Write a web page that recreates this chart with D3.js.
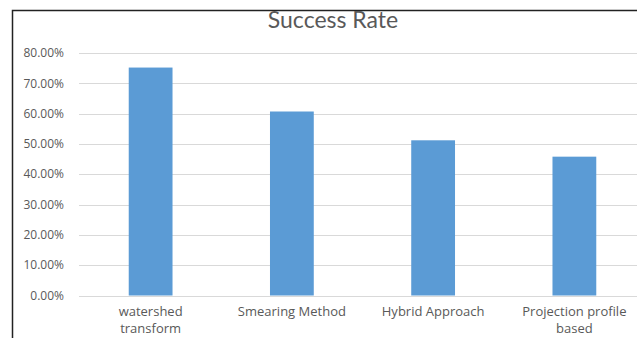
<!DOCTYPE html>
<html>
<head>
<meta charset="utf-8">
<style>
body { margin: 0; background: #fff; font-family: Lato, "Open Sans", sans-serif; }
.tick-label { font-family: "Open Sans", sans-serif; font-size: 12px; fill: #595959; }
.cat-label { font-family: "Open Sans", sans-serif; font-size: 13px; fill: #595959; }
.title { font-size: 23px; fill: #595959; }
</style>
</head>
<body>
<script src="https://cdnjs.cloudflare.com/ajax/libs/d3/7.8.5/d3.min.js"></script>
<script>
var categories = [["watershed", "transform"], ["Smearing Method"], ["Hybrid Approach"], ["Projection profile", "based"]];
var values = [0.752, 0.607, 0.512, 0.458];
var yTicks = [0, 0.1, 0.2, 0.3, 0.4, 0.5, 0.6, 0.7, 0.8];

var width = 637, height = 338;

var svg = d3.select("body").append("svg")
    .attr("width", width)
    .attr("height", height);

// frame (only the top and left edges are in view)
svg.append("path")
    .attr("d", "M12.5,338V10.5H637")
    .attr("fill", "none")
    .attr("stroke", "#222")
    .attr("stroke-width", 1.5);

var x = d3.scaleBand()
    .domain(d3.range(categories.length))
    .range([80, 645])
    .paddingInner(0.69)
    .paddingOuter(0.345);

var y = d3.scaleLinear()
    .domain([0, 0.8])
    .range([295.5, 53]);

var fmt = function(d){ return (d * 100).toFixed(2) + "%"; };

// gridlines
svg.selectAll(".grid")
    .data(yTicks)
    .enter().append("line")
    .attr("x1", 79)
    .attr("x2", width)
    .attr("y1", function(d){ return Math.round(y(d)) + 0.5; })
    .attr("y2", function(d){ return Math.round(y(d)) + 0.5; })
    .attr("stroke", "#d9d9d9")
    .attr("stroke-width", 1);

svg.selectAll(".tick-label")
    .data(yTicks)
    .enter().append("text")
    .attr("class", "tick-label")
    .attr("x", 64)
    .attr("y", function(d){ return y(d); })
    .attr("dy", "0.35em")
    .attr("text-anchor", "end")
    .text(fmt);

// bars
svg.selectAll(".bar")
    .data(values)
    .enter().append("rect")
    .attr("class", "bar")
    .attr("x", function(d, i){ return x(i); })
    .attr("width", x.bandwidth())
    .attr("y", function(d){ return y(d); })
    .attr("height", function(d){ return y(0) - y(d); })
    .attr("fill", "#5b9bd5");

// category labels, one text per line
svg.selectAll(".cat-label")
    .data(categories.flatMap(function(d, i){
      return d.map(function(t, j){ return {t: t, i: i, j: j}; });
    }))
    .enter().append("text")
    .attr("class", "cat-label")
    .attr("text-anchor", "middle")
    .attr("x", function(d){ return x(d.i) + x.bandwidth() / 2; })
    .attr("y", function(d){ return 316 + d.j * 17; })
    .text(function(d){ return d.t; });

svg.append("text")
    .attr("class", "title")
    .attr("x", 333)
    .attr("y", 28)
    .attr("text-anchor", "middle")
    .text("Success Rate");
</script>
</body>
</html>
